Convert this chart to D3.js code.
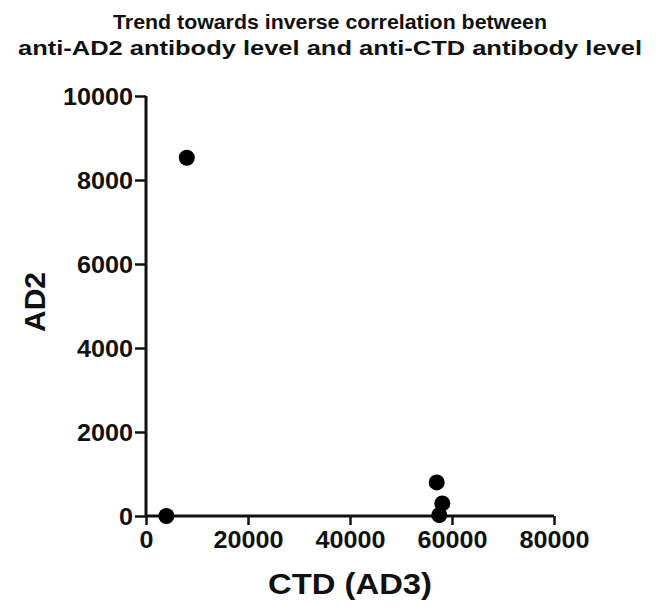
<!DOCTYPE html>
<html>
<head>
<meta charset="utf-8">
<script src="https://cdn.jsdelivr.net/npm/d3@7"></script>
<style>
  body { margin: 0; background: #fff; }
  text { font-family: "Liberation Sans", Arial, sans-serif; font-weight: bold; fill: #111; }
</style>
</head>
<body>
<div id="chart"></div>
<script>
// values
const ctd = [4000, 8000, 57000, 58100, 57500];
const ad2 = [0, 8530, 800, 300, 20];
const xTicks = [0, 20000, 40000, 60000, 80000];
const yTicks = [0, 2000, 4000, 6000, 8000, 10000];
const titleLines = ["Trend towards inverse correlation between",
                    "anti-AD2 antibody level and anti-CTD antibody level"];

const W = 661, H = 607;
const svg = d3.select("#chart").append("svg")
    .attr("width", W)
    .attr("height", H);

const x = d3.scaleLinear().domain([0, 80000]).range([146, 554]);
const y = d3.scaleLinear().domain([0, 10000]).range([516, 96]);

// title
svg.append("g").selectAll("text")
    .data(titleLines)
    .join("text")
    .attr("x", 330)
    .attr("y", (d, i) => 29 + i * 26)
    .attr("text-anchor", "middle")
    .attr("font-size", 21)
    .attr("textLength", (d, i) => i ? 624 : 434)
    .attr("lengthAdjust", "spacingAndGlyphs")
    .text(d => d);

// axes
const fmt = d3.format("d");
const xAxis = svg.append("g")
    .attr("transform", `translate(0,${y(0)})`)
    .call(d3.axisBottom(x).tickValues(xTicks).tickFormat(fmt).tickSize(9).tickPadding(7).tickSizeOuter(0));
const yAxis = svg.append("g")
    .attr("transform", `translate(${x(0)},0)`)
    .call(d3.axisLeft(y).tickValues(yTicks).tickFormat(fmt).tickSize(11).tickPadding(2).tickSizeOuter(0));

[xAxis, yAxis].forEach(a => {
  a.select(".domain").attr("stroke", "#111").attr("stroke-width", 3);
  a.selectAll(".tick line").attr("stroke", "#111").attr("stroke-width", 2.5);
  a.selectAll(".tick text")
    .attr("font-size", 23)
    .attr("font-family", "'Liberation Sans', Arial, sans-serif")
    .attr("font-weight", "bold")
    .attr("fill", "#222")
    .attr("textLength", d => fmt(d).length * 14)
    .attr("lengthAdjust", "spacingAndGlyphs");
});
yAxis.selectAll(".tick text").attr("dy", "0.36em");
// extend the domains a little past the crossing, as in the original
xAxis.select(".domain").attr("d", `M${x(0) - 1},0H${x(80000)}`);
yAxis.select(".domain").attr("d", `M0,${y(0) + 1}V${y(10000)}`);

// axis titles
svg.append("text")
    .attr("x", 350)
    .attr("y", 594)
    .attr("text-anchor", "middle")
    .attr("font-size", 29)
    .attr("textLength", 164)
    .attr("lengthAdjust", "spacingAndGlyphs")
    .text("CTD (AD3)");

svg.append("text")
    .attr("transform", "translate(45,302) rotate(-90)")
    .attr("text-anchor", "middle")
    .attr("font-size", 30)
    .text("AD2");

// points
svg.append("g").selectAll("circle")
    .data(ctd.map((c, i) => [c, ad2[i]]))
    .join("circle")
    .attr("cx", d => x(d[0]))
    .attr("cy", d => y(d[1]))
    .attr("r", 8)
    .attr("fill", "#000");
</script>
</body>
</html>
